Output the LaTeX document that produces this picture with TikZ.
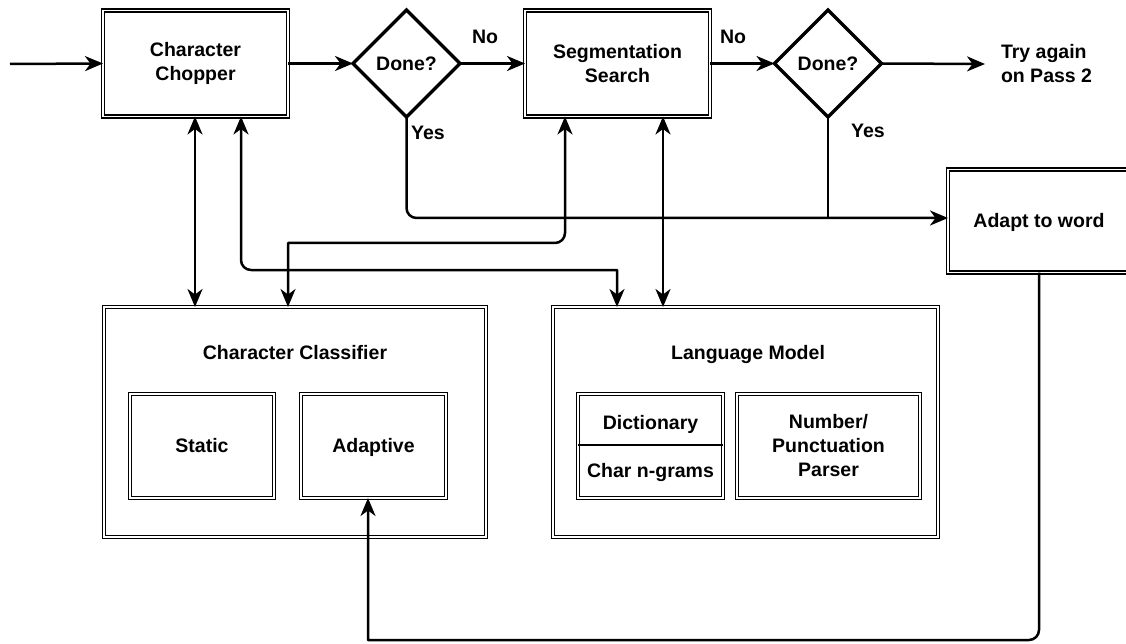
\documentclass[tikz,border=0pt]{standalone}
\usepackage{fontspec}
\setmainfont{Liberation Sans}
\usetikzlibrary{shapes.geometric,arrows.meta}

\tikzset{
  every node/.style={font=\bfseries\fontsize{19.5}{24}\selectfont, outer sep=0pt},
  dbox/.style={draw=black, line width=1.2pt, double=white, double distance=1.8pt,
               rectangle, inner sep=0pt, align=center, fill=white},
  oneline/.style={text height=13.8pt, text depth=0pt},
  decision/.style={draw=black, line width=3.5pt, diamond, shape aspect=1,
                   minimum width=107pt, minimum height=107pt, inner sep=0pt},
  lbl/.style={inner sep=0pt},
  conn/.style={line width=2.5pt, line join=round},
  tip/.tip={Stealth[length=18pt, width=15pt, inset=5.5pt]},
  arr/.style={conn, -tip},
  biarr/.style={conn, tip-tip},
}

\begin{document}
\begin{tikzpicture}[x=1pt, y=-1pt]
  \useasboundingbox (0,0) rectangle (1126,644);

  % top row: chopper, decisions and search
  \node[dbox, minimum width=185pt, minimum height=106pt] (cc) at (195.5,63.5) {Character\\Chopper};
  \node[decision] (d1) at (406.5,63.5) {Done?};
  \node[dbox, minimum width=185pt, minimum height=106pt] (seg) at (617.5,63.5) {Segmentation\\Search};
  \node[decision] (d2) at (828,63.5) {Done?};
  \node[lbl, anchor=west, align=left] (retry) at (1001,64) {Try again\\on Pass 2};
  \coordinate (start) at (10,64);
  \coordinate (retryin) at (985,64);

  % word adaptation
  \node[dbox, oneline, minimum width=182pt, minimum height=103pt] (adapt) at (1039,221) {Adapt to word};

  % classifier block
  \node[dbox, minimum width=382pt, minimum height=230pt] (cls) at (295,422) {};
  \node[lbl, oneline] (clst) at (295,353) {Character Classifier};
  \node[dbox, oneline, minimum width=144pt, minimum height=104pt] (static) at (202,446) {Static};
  \node[dbox, oneline, minimum width=145pt, minimum height=104pt] (adaptive) at (373.5,446) {Adaptive};

  % language model block
  \node[dbox, minimum width=385pt, minimum height=230pt] (lm) at (745.5,422) {};
  \node[lbl, oneline] (lmt) at (748,353) {Language Model};
  \node[dbox, minimum width=145pt, minimum height=104pt] (dict) at (650.5,446) {};
  \node[lbl, oneline] (dictt) at (650.5,423) {Dictionary};
  \node[lbl, oneline] (ngr) at (650.5,471) {Char n-grams};
  \draw[line width=2.5pt] (dict.west |- 0,445) -- (dict.east |- 0,445);
  \node[dbox, minimum width=183pt, minimum height=104pt] (num) at (828.5,446) {Number/\\Punctuation\\Parser};

  % edge labels
  \node[lbl, oneline] (no1) at (485,37) {No};
  \node[lbl, oneline] (no2) at (733,37) {No};
  \node[lbl, oneline] (yes1) at (428,133) {Yes};
  \node[lbl, oneline] (yes2) at (868,131) {Yes};

  % main flow
  \draw[arr] (start) -- (cc.west);
  \draw[arr] (cc.east) -- (d1.west);
  \draw[arr] (d1.east) -- (seg.west);
  \draw[arr] (seg.east) -- (d2.west);
  \draw[arr] (d2.east) -- (retryin);

  % accepted words go to adaptation
  \draw[arr, rounded corners=10pt] (d1.south) -- (406.5,218) -- (adapt.west |- 0,218);
  \draw[conn] (d2.south) -- (828,218);

  % adaptation feeds the adaptive classifier
  \draw[arr] (adapt.south) [rounded corners=10pt] -- (1039,640) [sharp corners] -- (368,640) -- (adaptive.south -| 368,0);

  % chopper <-> classifier / language model
  \draw[biarr] (cc.south -| 195,0) -- (cls.north -| 195,0);
  \draw[biarr] (cc.south -| 241,0) [rounded corners=10pt] -- (241,270) [sharp corners] -- (617,270) -- (lm.north -| 617,0);

  % search <-> classifier / language model
  \draw[biarr] (seg.south -| 565,0) [rounded corners=10pt] -- (565,243) [sharp corners] -- (288,243) -- (cls.north -| 288,0);
  \draw[biarr] (seg.south -| 663,0) -- (lm.north -| 663,0);
\end{tikzpicture}
\end{document}
